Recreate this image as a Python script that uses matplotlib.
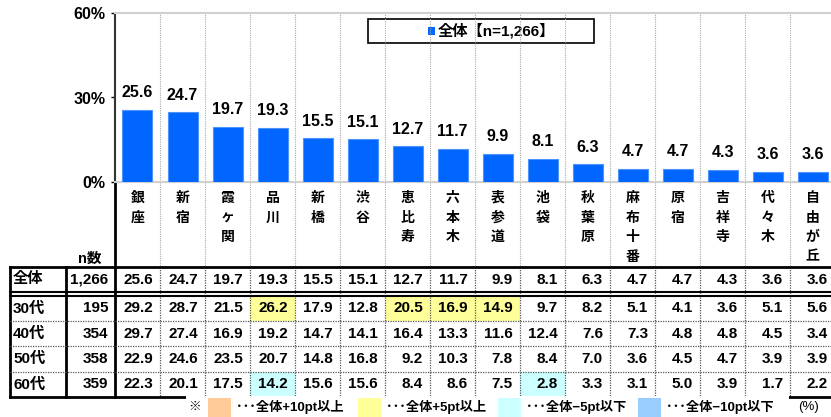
import numpy as np
import matplotlib
matplotlib.use("Agg")
import matplotlib.pyplot as plt
from matplotlib.patches import Rectangle

plt.rcParams['font.family'] = ['Liberation Sans', 'Noto Sans CJK JP', 'DejaVu Sans']
plt.rcParams['font.weight'] = 'bold'

# data
stations = ["銀座", "新宿", "霞ヶ関", "品川", "新橋", "渋谷", "恵比寿", "六本木",
            "表参道", "池袋", "秋葉原", "麻布十番", "原宿", "吉祥寺", "代々木", "自由が丘"]
total = [25.6, 24.7, 19.7, 19.3, 15.5, 15.1, 12.7, 11.7, 9.9, 8.1, 6.3, 4.7, 4.7, 4.3, 3.6, 3.6]
total_n = "1,266"
groups = ["30代", "40代", "50代", "60代"]
group_n = ["195", "354", "358", "359"]
age30 = [29.2, 28.7, 21.5, 26.2, 17.9, 12.8, 20.5, 16.9, 14.9, 9.7, 8.2, 5.1, 4.1, 3.6, 5.1, 5.6]
age40 = [29.7, 27.4, 16.9, 19.2, 14.7, 14.1, 16.4, 13.3, 11.6, 12.4, 7.6, 7.3, 4.8, 4.8, 4.5, 3.4]
age50 = [22.9, 24.6, 23.5, 20.7, 14.8, 16.8, 9.2, 10.3, 7.8, 8.4, 7.0, 3.6, 4.5, 4.7, 3.9, 3.9]
age60 = [22.3, 20.1, 17.5, 14.2, 15.6, 15.6, 8.4, 8.6, 7.5, 2.8, 3.3, 3.1, 5.0, 3.9, 1.7, 2.2]
group_vals = [age30, age40, age50, age60]
legend_label = "全体【n=1,266】"

# highlight colours (difference vs total)
c_p10 = "#FFCC99"
c_p5 = "#FFFF99"
c_m5 = "#CCFFFF"
c_m10 = "#99CCFF"
bar_color = "#0066FF"

W, H = 831, 417
fig = plt.figure(figsize=(W / 100, H / 100), dpi=100)

# pixel layout
col_w = 45
x0 = 115          # left edge of first station column
y_top, y_zero = 13, 182

# overlay axes in pixel coords for the table
tab = fig.add_axes([0, 0, 1, 1])
tab.set_xlim(0, W)
tab.set_ylim(H, 0)
tab.axis('off')

# bar chart
ax = fig.add_axes([x0 / W, (H - y_zero) / H, (W - x0) / W, (y_zero - y_top) / H])
ncols = (W - x0) / col_w
xs = np.arange(len(stations)) + 0.5
bars = ax.bar(xs, total, width=30 / col_w, color=bar_color, edgecolor="#4D94FF",
              linewidth=0.8, zorder=3)
for x, v in zip(xs, total):
    ax.annotate(f"{v:.1f}", (x, v), xytext=(0, 7), textcoords="offset points",
                ha='center', va='bottom', fontsize=11.5, fontweight='bold')
ax.set_xlim(0, ncols)
ax.set_ylim(0, 60)
ax.set_yticks([0, 30, 60])
ax.set_yticklabels(["0%", "30%", "60%"], fontsize=11.5, fontweight='bold')
ax.tick_params(axis='y', length=3, width=1, pad=4)
ax.set_xticks(np.arange(1, len(stations)))
ax.tick_params(axis='x', length=0, labelbottom=False)
ax.grid(axis='x', color='#AAAAAA', linestyle=(0, (1, 1)), linewidth=0.8, zorder=0)
ax.spines['right'].set_visible(False)
ax.spines['top'].set_color('#D0D0D0')
ax.spines['top'].set_linewidth(1.5)
ax.spines['bottom'].set_color('#D0D0D0')
ax.spines['bottom'].set_linewidth(1.5)
ax.spines['left'].set_color('#333333')
ax.spines['left'].set_linewidth(1.5)
ax.patch.set_alpha(0)

# legend box (top)
tab.add_patch(Rectangle((368, 19), 226, 24, facecolor='white', edgecolor='black', lw=1.2, zorder=5))
tab.add_patch(Rectangle((428, 27), 7, 8, facecolor=bar_color, edgecolor='none', zorder=6))
tab.text(438, 31, legend_label, ha='left', va='center', fontsize=11, fontweight='bold', zorder=6)

# header: vertical station names
for i, name in enumerate(stations):
    cx = x0 + col_w * (i + 0.5)
    for k, ch in enumerate(name):
        tab.text(cx, 198 + k * 19.5, ch, ha='center', va='center', fontsize=10, fontweight='bold')
tab.text(90, 259, "n数", ha='center', va='center', fontsize=10.5, fontweight='bold')


def hl_color(v, base):
    d = round(v - base, 1)
    if d >= 10:
        return c_p10
    if d >= 5:
        return c_p5
    if d <= -10:
        return c_m10
    if d <= -5:
        return c_m5
    return None


# rows: total + age groups
row_spans = [(267, 292), (296, 321), (321, 346), (346, 372), (372, 397)]
labels = ["全体"] + groups
ns = [total_n] + group_n
vals = [total] + group_vals
for r, ((ya, yb), lab, n, row) in enumerate(zip(row_spans, labels, ns, vals)):
    yc = (ya + yb) / 2
    tab.text(13, yc, lab, ha='left', va='center', fontsize=11, fontweight='bold')
    tab.text(108, yc, n, ha='right', va='center', fontsize=11, fontweight='bold')
    for i, v in enumerate(row):
        xl = x0 + col_w * i
        if r > 0:
            c = hl_color(v, total[i])
            if c:
                tab.add_patch(Rectangle((xl, ya), col_w, yb - ya, facecolor=c, edgecolor='none', zorder=0))
        tab.text(xl + col_w - 7, yc, f"{v:.1f}", ha='right', va='center', fontsize=11,
                 fontweight='bold', zorder=3)

# table lines
for k in range(1, len(stations)):
    xv = x0 + col_w * k
    tab.plot([xv, xv], [y_zero, 267], color='#AAAAAA', ls=(0, (1, 1)), lw=0.8)
    tab.plot([xv, xv], [267, 397], color='#555555', ls=(0, (1, 1)), lw=0.9)
tab.plot([x0, x0], [y_zero, 397], color='black', lw=2)
tab.plot([66, 66], [267, 397], color='black', lw=2)
tab.plot([10, 10], [267, 397], color='black', lw=2)
tab.plot([10, W], [267, 267], color='black', lw=2)
tab.plot([10, W], [292, 292], color='black', lw=1.5)
tab.plot([10, W], [296, 296], color='black', lw=1.5)
for yv in [321, 346, 372]:
    tab.plot([10, W], [yv, yv], color='#555555', ls=(0, (1, 1)), lw=0.9)
tab.plot([10, W], [397, 397], color='black', lw=2)

# bottom legend
tab.add_patch(Rectangle((186, 396), 603, 21, facecolor='white', edgecolor='none', zorder=4))
tab.text(195, 407, "※", ha='center', va='center', fontsize=9, fontweight='bold', zorder=5)
leg_items = [(208, c_p10, "･･･全体+10pt以上"), (358, c_p5, "･･･全体+5pt以上"),
             (498, c_m5, "･･･全体−5pt以下"), (638, c_m10, "･･･全体−10pt以下")]
for lx, c, t in leg_items:
    tab.add_patch(Rectangle((lx, 398), 23, 19, facecolor=c, edgecolor='none', zorder=5))
    tab.text(lx + 28, 407, t, ha='left', va='center', fontsize=9.5, fontweight='bold', zorder=5)
tab.text(798, 407, "(%)", ha='left', va='center', fontsize=9.5, fontweight='normal', zorder=5)

fig.savefig("out.png", dpi=100)
